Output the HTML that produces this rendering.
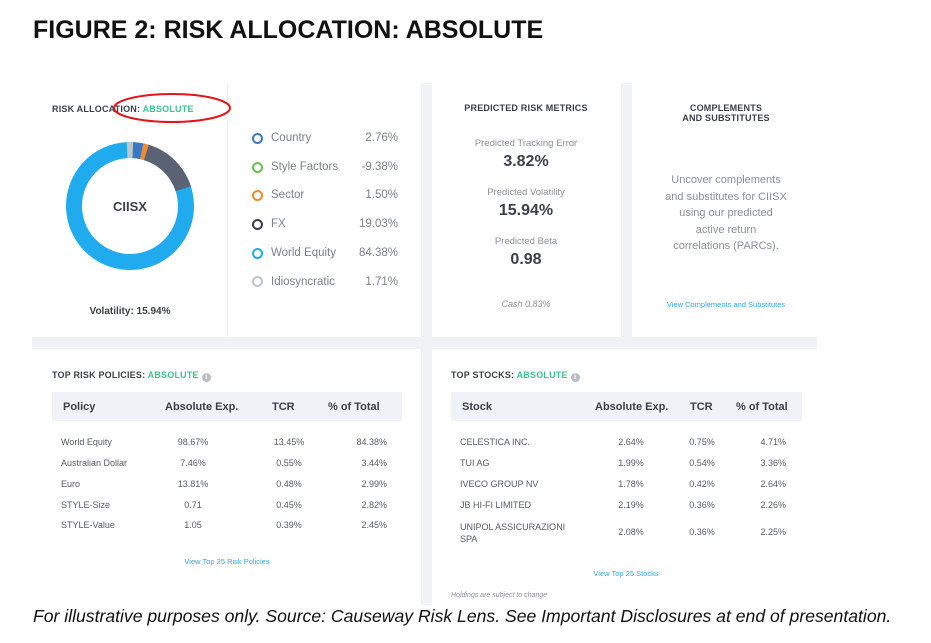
<!DOCTYPE html>
<html><head><meta charset="utf-8"><style>
body{margin:0;width:931px;height:643px;background:#fff;position:relative;overflow:hidden;font-family:"Liberation Sans",sans-serif;}
.a{position:absolute;white-space:nowrap;}
.card{position:absolute;background:#fff;}
.h{font-size:9px;font-weight:bold;color:#3a3f4a;letter-spacing:0.2px}
.g{color:#3cc48c}
.lg{font-size:11.5px;color:#7a7f88}
.t{font-size:9px;color:#555a63}
.th{font-size:11px;font-weight:bold;color:#3a3f4a}
.lnk{font-size:7.5px;color:#35a7e6}
.dot{position:absolute;width:7px;height:7px;border-radius:50%;border:2px solid}
.c{text-align:center;transform:translateX(-50%)}
.r{text-align:right;transform:translateX(-100%)}
.i{display:inline-block;width:9px;height:9px;border-radius:50%;background:#b9bec6;color:#fff;font-size:7px;text-align:center;line-height:9px;vertical-align:-1px;margin-left:3px}
</style></head><body>
<div class="a" style="left:33px;top:16px;font-size:25px;font-weight:bold;color:#111;">FIGURE 2: RISK ALLOCATION: ABSOLUTE</div>
<div style="position:absolute;left:32px;top:83px;width:785px;height:522px;background:#f0f2f6"></div>
<div class="card" style="left:32px;top:83px;width:389px;height:254px"></div>
<div style="position:absolute;left:227px;top:83px;width:1px;height:254px;background:#eef0f3"></div>
<div class="card" style="left:432px;top:83px;width:189px;height:254px"></div>
<div class="card" style="left:632px;top:83px;width:185px;height:254px"></div>
<div class="card" style="left:32px;top:349px;width:389px;height:260px"></div>
<div class="card" style="left:432px;top:349px;width:385px;height:260px"></div>

<div class="a h" style="left:52px;top:104px">RISK ALLOCATION: <span class="g">ABSOLUTE</span></div>
<svg style="position:absolute;left:0;top:0" width="931" height="643">
<ellipse cx="172" cy="108" rx="58" ry="14" fill="none" stroke="#e3141c" stroke-width="2"/>
<g transform="translate(130,206) rotate(-93)">
<circle r="56" fill="none" stroke="#1fabed" stroke-width="16"/>
<circle r="56" fill="none" stroke="#5b6273" stroke-width="16" stroke-dasharray="53.7 400" stroke-dashoffset="-19.5"/>
<circle r="56" fill="none" stroke="#f08a2b" stroke-width="16" stroke-dasharray="4.9 400" stroke-dashoffset="-14.6"/>
<circle r="56" fill="none" stroke="#3a78c4" stroke-width="16" stroke-dasharray="8.8 400" stroke-dashoffset="-5.8"/>
<circle r="56" fill="none" stroke="#c0c4cc" stroke-width="16" stroke-dasharray="5.8 400"/>
</g>
</svg>
<div class="a" style="left:130px;top:199px;font-size:13px;font-weight:bold;color:#3a3f4a;transform:translateX(-50%)">CIISX</div>
<div class="a" style="left:130px;top:306px;font-size:10px;font-weight:bold;color:#3a3f4a;transform:translateX(-50%)">Volatility: 15.94%</div>

<div class="dot" style="left:252px;top:133px;border-color:#3a78c4"></div><div class="a lg" style="left:271px;top:132px">Country</div><div class="a lg r" style="left:398px;top:132px">2.76%</div>
<div class="dot" style="left:252px;top:162px;border-color:#6cc04a"></div><div class="a lg" style="left:271px;top:161px">Style Factors</div><div class="a lg r" style="left:398px;top:161px">-9.38%</div>
<div class="dot" style="left:252px;top:190px;border-color:#f08a2b"></div><div class="a lg" style="left:271px;top:189px">Sector</div><div class="a lg r" style="left:398px;top:189px">1.50%</div>
<div class="dot" style="left:252px;top:219px;border-color:#3a3f4a"></div><div class="a lg" style="left:271px;top:218px">FX</div><div class="a lg r" style="left:398px;top:218px">19.03%</div>
<div class="dot" style="left:252px;top:248px;border-color:#1fabed"></div><div class="a lg" style="left:271px;top:247px">World Equity</div><div class="a lg r" style="left:398px;top:247px">84.38%</div>
<div class="dot" style="left:252px;top:276px;border-color:#c0c4cc"></div><div class="a lg" style="left:271px;top:276px">Idiosyncratic</div><div class="a lg r" style="left:398px;top:276px">1.71%</div>

<div class="a h c" style="left:526px;top:103px">PREDICTED RISK METRICS</div>
<div class="a c" style="left:526px;top:138px;font-size:9.5px;color:#8a8f98">Predicted Tracking Error</div>
<div class="a c" style="left:526px;top:153px;font-size:16px;font-weight:bold;color:#3a3f4a">3.82%</div>
<div class="a c" style="left:526px;top:187px;font-size:9.5px;color:#8a8f98">Predicted Volatility</div>
<div class="a c" style="left:526px;top:202px;font-size:16px;font-weight:bold;color:#3a3f4a">15.94%</div>
<div class="a c" style="left:526px;top:236px;font-size:9.5px;color:#8a8f98">Predicted Beta</div>
<div class="a c" style="left:526px;top:251px;font-size:16px;font-weight:bold;color:#3a3f4a">0.98</div>
<div class="a c" style="left:526px;top:299px;font-size:9px;font-style:italic;color:#8a8f98">Cash 0.83%</div>

<div class="a h c" style="left:726px;top:103px;text-align:center;line-height:10px">COMPLEMENTS<br>AND SUBSTITUTES</div>
<div class="a c" style="left:726px;top:172px;font-size:11px;color:#8a8f98;text-align:center;line-height:16.5px">Uncover complements<br>and substitutes for CIISX<br>using our predicted<br>active return<br>correlations (PARCs).</div>
<div class="a lnk c" style="left:726px;top:300px">View Complements and Substitutes</div>

<div class="a h" style="left:52px;top:370px">TOP RISK POLICIES: <span class="g">ABSOLUTE</span><span class="i">i</span></div>
<div style="position:absolute;left:52px;top:392px;width:350px;height:29px;background:#eff2f6;border-radius:2px"></div>
<div class="a th" style="left:63px;top:401px">Policy</div><div class="a th" style="left:165px;top:401px">Absolute Exp.</div><div class="a th" style="left:272px;top:401px">TCR</div><div class="a th" style="left:328px;top:401px">% of Total</div>
<div class="a t" style="left:61px;top:437px">World Equity</div><div class="a t c" style="left:193px;top:437px">98.67%</div><div class="a t c" style="left:289px;top:437px">13.45%</div><div class="a t r" style="left:387px;top:437px">84.38%</div>
<div class="a t" style="left:61px;top:458px">Australian Dollar</div><div class="a t c" style="left:193px;top:458px">7.46%</div><div class="a t c" style="left:289px;top:458px">0.55%</div><div class="a t r" style="left:387px;top:458px">3.44%</div>
<div class="a t" style="left:61px;top:479px">Euro</div><div class="a t c" style="left:193px;top:479px">13.81%</div><div class="a t c" style="left:289px;top:479px">0.48%</div><div class="a t r" style="left:387px;top:479px">2.99%</div>
<div class="a t" style="left:61px;top:500px">STYLE-Size</div><div class="a t c" style="left:193px;top:500px">0.71</div><div class="a t c" style="left:289px;top:500px">0.45%</div><div class="a t r" style="left:387px;top:500px">2.82%</div>
<div class="a t" style="left:61px;top:520px">STYLE-Value</div><div class="a t c" style="left:193px;top:520px">1.05</div><div class="a t c" style="left:289px;top:520px">0.39%</div><div class="a t r" style="left:387px;top:520px">2.45%</div>
<div class="a lnk c" style="left:227px;top:557px">View Top 25 Risk Policies</div>

<div class="a h" style="left:451px;top:370px">TOP STOCKS: <span class="g">ABSOLUTE</span><span class="i">i</span></div>
<div style="position:absolute;left:451px;top:392px;width:351px;height:29px;background:#eff2f6;border-radius:2px"></div>
<div class="a th" style="left:462px;top:401px">Stock</div><div class="a th" style="left:595px;top:401px">Absolute Exp.</div><div class="a th" style="left:690px;top:401px">TCR</div><div class="a th" style="left:736px;top:401px">% of Total</div>
<div class="a t" style="left:460px;top:437px">CELESTICA INC.</div><div class="a t c" style="left:631px;top:437px">2.64%</div><div class="a t c" style="left:702px;top:437px">0.75%</div><div class="a t r" style="left:786px;top:437px">4.71%</div>
<div class="a t" style="left:460px;top:458px">TUI AG</div><div class="a t c" style="left:631px;top:458px">1.99%</div><div class="a t c" style="left:702px;top:458px">0.54%</div><div class="a t r" style="left:786px;top:458px">3.36%</div>
<div class="a t" style="left:460px;top:479px">IVECO GROUP NV</div><div class="a t c" style="left:631px;top:479px">1.78%</div><div class="a t c" style="left:702px;top:479px">0.42%</div><div class="a t r" style="left:786px;top:479px">2.64%</div>
<div class="a t" style="left:460px;top:500px">JB HI-FI LIMITED</div><div class="a t c" style="left:631px;top:500px">2.19%</div><div class="a t c" style="left:702px;top:500px">0.36%</div><div class="a t r" style="left:786px;top:500px">2.26%</div>
<div class="a t" style="left:460px;top:521px;line-height:12px">UNIPOL ASSICURAZIONI<br>SPA</div><div class="a t c" style="left:631px;top:527px">2.08%</div><div class="a t c" style="left:702px;top:527px">0.36%</div><div class="a t r" style="left:786px;top:527px">2.25%</div>
<div class="a lnk c" style="left:626px;top:569px">View Top 25 Stocks</div>
<div class="a" style="left:451px;top:592px;font-size:7px;font-style:italic;color:#8a8f98">Holdings are subject to change</div>

<div class="a" style="left:33px;top:606px;font-size:17.6px;font-style:italic;color:#111;background:#fff;padding-right:4px">For illustrative purposes only. Source: Causeway Risk Lens. See Important Disclosures at end of presentation.</div>
</body></html>
